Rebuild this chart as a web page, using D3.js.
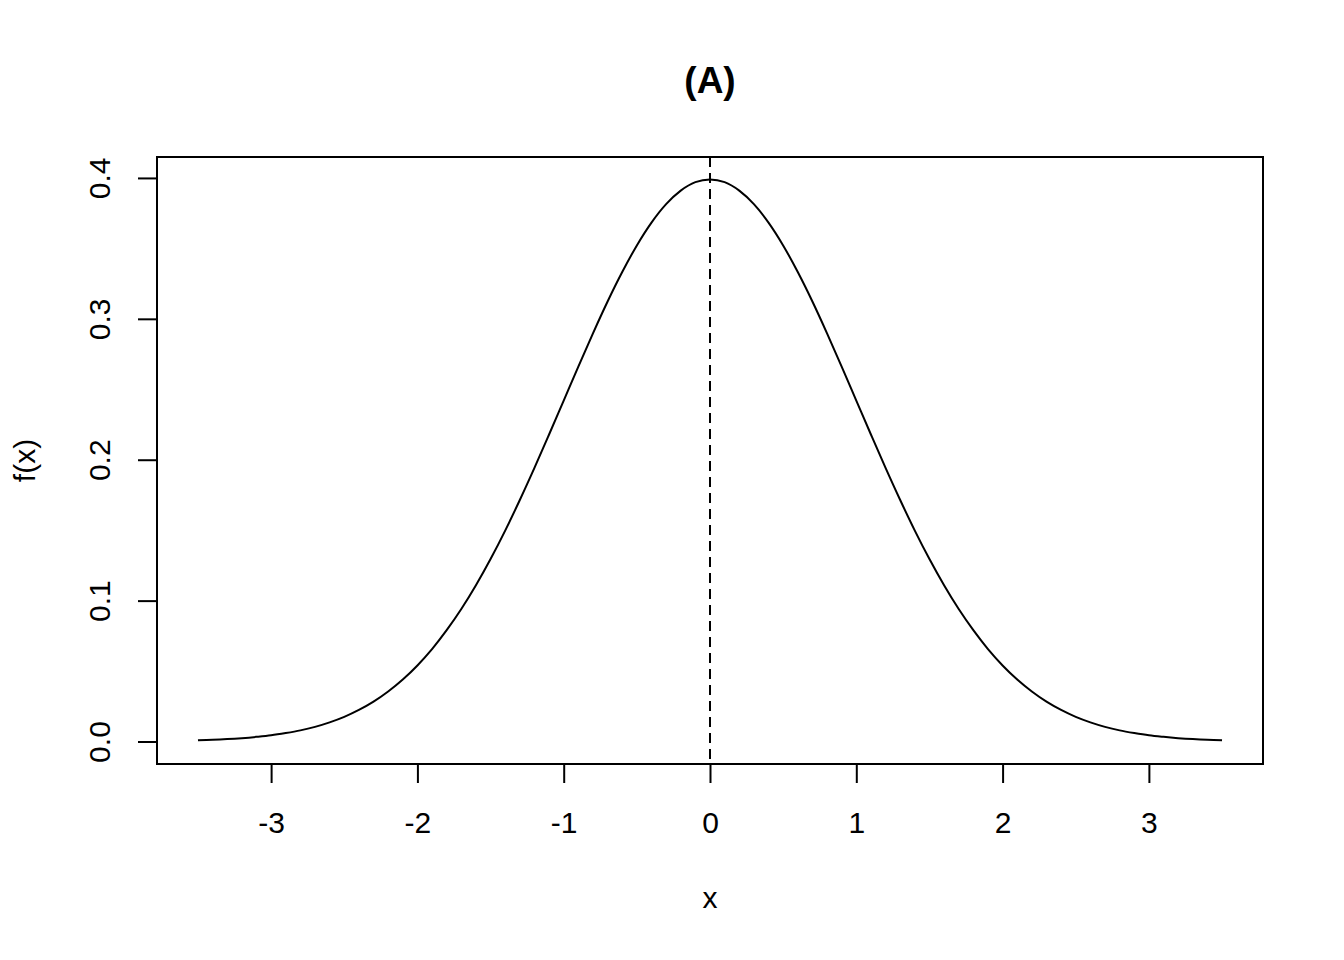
<!DOCTYPE html>
<html>
<head>
<meta charset="utf-8">
<script src="https://cdn.jsdelivr.net/npm/d3@7"></script>
<style>
  html, body { margin: 0; padding: 0; background: #fff; }
  svg text { font-family: "Liberation Sans", Arial, Helvetica, sans-serif; fill: #000; }
</style>
</head>
<body>
<svg id="chart" width="1344" height="960"></svg>
<script>
// Data: standard normal density curve
const xValues = [-3.5,-3.4,-3.3,-3.2,-3.1,-3.0,-2.9,-2.8,-2.7,-2.6,-2.5,-2.4,-2.3,-2.2,-2.1,-2.0,-1.9,-1.8,-1.7,-1.6,-1.5,-1.4,-1.3,-1.2,-1.1,-1.0,-0.9,-0.8,-0.7,-0.6,-0.5,-0.4,-0.3,-0.2,-0.1,0.0,0.1,0.2,0.3,0.4,0.5,0.6,0.7,0.8,0.9,1.0,1.1,1.2,1.3,1.4,1.5,1.6,1.7,1.8,1.9,2.0,2.1,2.2,2.3,2.4,2.5,2.6,2.7,2.8,2.9,3.0,3.1,3.2,3.3,3.4,3.5];
const fValues = [0.0009,0.0012,0.0017,0.0024,0.0033,0.0044,0.0060,0.0079,0.0104,0.0136,0.0175,0.0224,0.0283,0.0355,0.0440,0.0540,0.0656,0.0790,0.0940,0.1109,0.1295,0.1497,0.1714,0.1942,0.2179,0.2420,0.2661,0.2897,0.3123,0.3332,0.3521,0.3683,0.3814,0.3910,0.3970,0.3989,0.3970,0.3910,0.3814,0.3683,0.3521,0.3332,0.3123,0.2897,0.2661,0.2420,0.2179,0.1942,0.1714,0.1497,0.1295,0.1109,0.0940,0.0790,0.0656,0.0540,0.0440,0.0355,0.0283,0.0224,0.0175,0.0136,0.0104,0.0079,0.0060,0.0044,0.0033,0.0024,0.0017,0.0012,0.0009];
const xTicks = [-3,-2,-1,0,1,2,3];
const yTicks = [0.0,0.1,0.2,0.3,0.4];
const meanLine = [0];
const title = "(A)";
const xLabel = "x";
const yLabel = "f(x)";

const svg = d3.select("#chart");
const mLeft = 157, mRight = 1263, mTop = 157, mBottom = 764;

const xMin = d3.min(xValues), xMax = d3.max(xValues);
const yMin = 0, yMax = d3.max(fValues);
const xPad = (xMax - xMin) * 0.04, yPad = (yMax - yMin) * 0.04;

const x = d3.scaleLinear().domain([xMin - xPad, xMax + xPad]).range([mLeft, mRight]);
const y = d3.scaleLinear().domain([yMin - yPad, yMax + yPad]).range([mBottom, mTop]);

const LW = 2;

// plot box
svg.append("rect")
  .attr("x", mLeft).attr("y", mTop)
  .attr("width", mRight - mLeft).attr("height", mBottom - mTop)
  .attr("fill", "none").attr("stroke", "#000").attr("stroke-width", LW);

// x axis
const xAxis = svg.append("g")
  .attr("transform", `translate(0,${mBottom})`)
  .call(d3.axisBottom(x).tickValues(xTicks).tickSize(19).tickPadding(0).tickFormat(d3.format("d")));
xAxis.select(".domain").remove();
xAxis.selectAll(".tick line").attr("stroke", "#000").attr("stroke-width", LW);
xAxis.selectAll(".tick text")
  .attr("y", 0).attr("dy", null)
  .attr("transform", "translate(0,69)")
  .style("font-size", "30px")
  .attr("font-family", null)
  .text(d => d < 0 ? "-" + Math.abs(d) : String(d));

// y axis
const yAxis = svg.append("g")
  .attr("transform", `translate(${mLeft},0)`)
  .call(d3.axisLeft(y).tickValues(yTicks).tickSize(19).tickFormat(d3.format(".1f")));
yAxis.select(".domain").remove();
yAxis.selectAll(".tick line").attr("stroke", "#000").attr("stroke-width", LW);
yAxis.selectAll(".tick text")
  .attr("x", null).attr("dy", null)
  .attr("transform", "translate(-47,0) rotate(-90)")
  .attr("text-anchor", "middle")
  .attr("y", 0)
  .style("font-size", "30px")
  .attr("font-family", null);

// dashed vertical line at the mean
svg.selectAll("line.mean").data(meanLine).enter().append("line")
  .attr("class", "mean")
  .attr("x1", d => x(d)).attr("x2", d => x(d))
  .attr("y1", mTop).attr("y2", mBottom)
  .attr("stroke", "#000").attr("stroke-width", LW)
  .attr("stroke-dasharray", "10,6");

// density curve
const pts = xValues.map((v, i) => [v, fValues[i]]);
svg.append("path")
  .datum(pts)
  .attr("fill", "none").attr("stroke", "#000").attr("stroke-width", LW)
  .attr("d", d3.line().x(d => x(d[0])).y(d => y(d[1])).curve(d3.curveMonotoneX));

// title
svg.append("text")
  .attr("x", (mLeft + mRight) / 2).attr("y", 93)
  .attr("text-anchor", "middle")
  .style("font-size", "37px").style("font-weight", "bold")
  .text(title);

// axis labels
svg.append("text")
  .attr("x", (mLeft + mRight) / 2).attr("y", 908)
  .attr("text-anchor", "middle")
  .style("font-size", "30px")
  .text(xLabel);

svg.append("text")
  .attr("transform", `translate(35,${(mTop + mBottom) / 2}) rotate(-90)`)
  .attr("text-anchor", "middle")
  .style("font-size", "30px")
  .text(yLabel);
</script>
</body>
</html>
